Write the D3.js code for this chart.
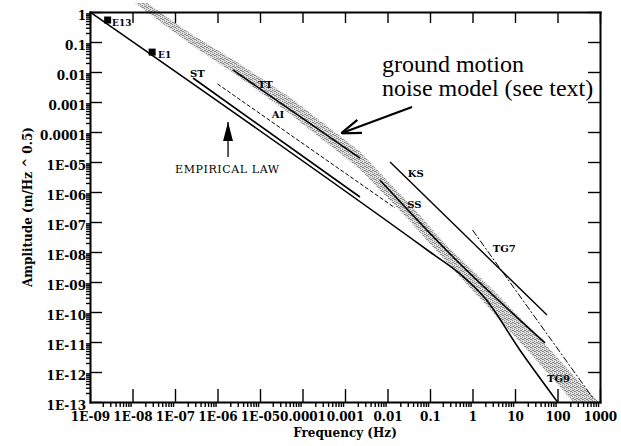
<!DOCTYPE html>
<html>
<head>
<meta charset="utf-8">
<script src="https://cdn.jsdelivr.net/npm/d3@7"></script>
<style>
  body { margin: 0; background: #fff; }
  svg { display: block; }
  .axis text { font-family: "DejaVu Serif"; font-weight: bold; font-size: 12px; fill: #000; }
  .axis path, .axis line { stroke: #000; }
  .curve-label { font-family: "DejaVu Serif"; font-weight: bold; font-size: 10px; }
</style>
</head>
<body>
<div id="chart"></div>
<script>
// axis decades and the labels printed on them
let xTicks = [1e-9, 1e-8, 1e-7, 1e-6, 1e-5, 1e-4, 1e-3, 1e-2, 0.1, 1, 10, 100, 1000];
let xTickLabels = ["1E-09", "1E-08", "1E-07", "1E-06", "1E-05", "0.0001", "0.001", "0.01", "0.1", "1", "10", "100", "1000"];
let yTicks = [1, 0.1, 0.01, 1e-3, 1e-4, 1e-5, 1e-6, 1e-7, 1e-8, 1e-9, 1e-10, 1e-11, 1e-12, 1e-13];
let yTickLabels = ["1", "0.1", "0.01", "0.001", "0.0001", "1E-05", "1E-06", "1E-07", "1E-08", "1E-09", "1E-10", "1E-11", "1E-12", "1E-13"];

// curves as [frequency (Hz), amplitude (m/Hz^0.5)]
let empiricalLaw = [[1e-9, 1], [0.1, 1e-8], [0.5, 1.9e-9], [2, 2.8e-10], [13, 5.4e-12], [100, 1e-13]];
let stLine = [[2.65e-7, 6.3e-3], [2.25e-3, 6.8e-7]];
let aiLine = [[1.0e-6, 4e-3], [0.015, 2.95e-7]];
let ttLine = [[2.3e-6, 1.17e-2], [2.25e-3, 1.35e-5]];
let ssLine = [[6.6e-3, 2.5e-6], [0.35, 6.8e-9], [51, 9.3e-12]];
let ksLine = [[0.0115, 1e-5], [56.6, 7.9e-11]];
let tg7Line = [[1, 5.4e-8], [684, 1.35e-13]];

// ground motion noise model band
let bandFreq  = [1e-8, 2.2e-7, 2.9e-6, 5.1e-5, 2.2e-3, 0.032, 0.26, 3.2, 32, 355, 1000];
let bandUpper = [4.4, 0.2, 0.021, 1.4e-3, 2.3e-5, 4.2e-7, 1.5e-8, 5.1e-10, 1.7e-11, 4.2e-13, 9e-14];
let bandLower = [2.3, 0.089, 7.6e-3, 4e-4, 5.9e-6, 1.15e-7, 4.2e-9, 8.9e-11, 2.4e-12, 5.2e-14, 1.1e-14];

// measured points
let markerNames = ["E13", "E1"];
let markerFreq = [2.6e-9, 2.9e-8];
let markerAmp = [0.54, 0.046];

// curve labels, anchored at [frequency, amplitude]
let curveLabels = [
    {text: "E13", f: 3.3e-9, a: 0.34},
    {text: "E1", f: 4e-8, a: 0.029},
    {text: "ST", f: 2.25e-7, a: 6.8e-3},
    {text: "TT", f: 9e-6, a: 2.9e-3},
    {text: "AI", f: 1.9e-5, a: 2.9e-4},
    {text: "KS", f: 0.030, a: 3.2e-6},
    {text: "SS", f: 0.029, a: 2.9e-7},
    {text: "TG7", f: 3.0, a: 1e-8},
    {text: "TG9", f: 57, a: 4.6e-13}
];

let width = 621, height = 446;

let svg = d3.select("#chart")
    .append("svg")
    .attr("width", width)
    .attr("height", height);

let x = d3.scaleLog().domain([1e-9, 1000]).range([90, 600]);
let y = d3.scaleLog().domain([1e-13, 1]).range([402, 12]);

let defs = svg.append("defs");

// stippled grey fill for the band
let pattern = defs.append("pattern")
    .attr("id", "stipple")
    .attr("width", 4).attr("height", 4)
    .attr("patternUnits", "userSpaceOnUse");
pattern.append("rect").attr("width", 4).attr("height", 4).attr("fill", "#dedede");
[[0, 0], [2, 1], [1, 2], [3, 3], [2, 3], [0, 2]].forEach(p => {
    pattern.append("rect")
        .attr("x", p[0]).attr("y", p[1])
        .attr("width", 1).attr("height", 1)
        .attr("fill", "#8c8c8c");
});

defs.append("clipPath").attr("id", "band-clip")
    .append("rect")
    .attr("x", x(1e-9)).attr("y", y(2))
    .attr("width", x(1000) - x(1e-9))
    .attr("height", y(1e-13) - y(2));

// open arrow head
defs.append("marker")
    .attr("id", "open-head")
    .attr("viewBox", "0 0 10 10")
    .attr("refX", 9.5).attr("refY", 5)
    .attr("markerWidth", 20).attr("markerHeight", 20)
    .attr("markerUnits", "userSpaceOnUse")
    .attr("orient", "auto")
    .append("path")
    .attr("d", "M0,1.5 L10,5 L0,8.5")
    .attr("fill", "none")
    .attr("stroke", "#000")
    .attr("stroke-width", 1.1);

// filled arrow head
defs.append("marker")
    .attr("id", "solid-head")
    .attr("viewBox", "0 0 19 10")
    .attr("refX", 19).attr("refY", 5)
    .attr("markerWidth", 19).attr("markerHeight", 10)
    .attr("markerUnits", "userSpaceOnUse")
    .attr("orient", "auto")
    .append("path")
    .attr("d", "M0,0 L19,5 L0,10 Z")
    .attr("fill", "#000");

// band
let bandPts = bandFreq.map((f, i) => [x(f), y(bandUpper[i])])
    .concat(bandFreq.map((f, i) => [x(f), y(bandLower[i])]).reverse());
svg.append("path")
    .attr("clip-path", "url(#band-clip)")
    .attr("d", d3.line().curve(d3.curveLinearClosed)(bandPts))
    .attr("fill", "url(#stipple)")
    .attr("stroke", "none");

let line = d3.line().x(d => x(d[0])).y(d => y(d[1]));
let smooth = d3.line().x(d => x(d[0])).y(d => y(d[1])).curve(d3.curveMonotoneX);

let curves = [
    {data: empiricalLaw, gen: smooth, w: 1.6, dash: null},
    {data: stLine, gen: line, w: 1.6, dash: null},
    {data: aiLine, gen: line, w: 1, dash: "4,2"},
    {data: ttLine, gen: line, w: 1.6, dash: null},
    {data: ssLine, gen: smooth, w: 1.6, dash: null},
    {data: ksLine, gen: line, w: 1.4, dash: null},
    {data: tg7Line, gen: line, w: 1, dash: "7,2,2,2"}
];

svg.append("g")
    .selectAll("path")
    .data(curves)
    .enter()
    .append("path")
    .attr("d", d => d.gen(d.data))
    .attr("fill", "none")
    .attr("stroke", "#000")
    .attr("stroke-width", d => d.w)
    .attr("stroke-dasharray", d => d.dash);

// square markers
svg.append("g")
    .selectAll("rect")
    .data(markerNames)
    .enter()
    .append("rect")
    .attr("x", (d, i) => x(markerFreq[i]) - 3.5)
    .attr("y", (d, i) => y(markerAmp[i]) - 3.5)
    .attr("width", 7)
    .attr("height", 7)
    .attr("fill", "#000");

// labels on the curves
svg.append("g")
    .selectAll("text")
    .data(curveLabels)
    .enter()
    .append("text")
    .attr("class", "curve-label")
    .attr("x", d => x(d.f))
    .attr("y", d => y(d.a))
    .style("font-size", d => d.text[0] == "E" ? "9px" : "10px")
    .text(d => d.text);

// empirical law pointer
svg.append("line")
    .attr("x1", x(1.77e-6)).attr("y1", y(1.47e-5))
    .attr("x2", x(1.77e-6)).attr("y2", y(2.15e-4))
    .attr("stroke", "#000")
    .attr("stroke-width", 1.3)
    .attr("marker-end", "url(#solid-head)");

svg.append("text")
    .attr("x", x(1e-7))
    .attr("y", y(4.3e-6))
    .style("font-family", "DejaVu Serif")
    .style("font-size", "11px")
    .style("letter-spacing", "0.6px")
    .text("EMPIRICAL LAW");

// noise model annotation
svg.append("line")
    .attr("x1", x(0.0377)).attr("y1", y(6.8e-4))
    .attr("x2", x(8.5e-4)).attr("y2", y(9.3e-5))
    .attr("stroke", "#000")
    .attr("stroke-width", 2.2)
    .attr("marker-end", "url(#open-head)");

let note = svg.append("text")
    .style("font-family", "Liberation Serif")
    .style("font-size", "24px");
note.append("tspan").attr("x", x(7.4e-3)).attr("y", y(0.01)).text("ground motion");
note.append("tspan").attr("x", x(7.4e-3)).attr("y", y(1.58e-3)).text("noise model (see text)");

// axes
let minorX = [], minorY = [];
xTicks.slice(0, -1).forEach(d => d3.range(2, 10).forEach(k => minorX.push(d * k)));
yTicks.slice(1).forEach(d => d3.range(2, 10).forEach(k => minorY.push(d * k)));

let bottom = svg.append("g")
    .attr("class", "axis")
    .attr("transform", `translate(0,${y(1e-13)})`);
bottom.call(d3.axisBottom(x).tickValues(minorX).tickSize(5).tickSizeOuter(0).tickFormat(""))
    .select(".domain").remove();
bottom.append("g")
    .call(d3.axisBottom(x).tickValues(xTicks).tickSize(-13).tickSizeOuter(0).tickPadding(10)
        .tickFormat((d, i) => xTickLabels[i]));

let left = svg.append("g")
    .attr("class", "axis")
    .attr("transform", `translate(${x(1e-9)},0)`);
left.call(d3.axisLeft(y).tickValues(minorY).tickSize(4).tickSizeOuter(0).tickFormat(""))
    .select(".domain").remove();
left.append("g")
    .call(d3.axisLeft(y).tickValues(yTicks).tickSize(-12).tickSizeOuter(0).tickPadding(4)
        .tickFormat((d, i) => yTickLabels[i]))
    .selectAll("text").attr("dy", "0.6em");

svg.append("g")
    .attr("class", "axis")
    .attr("transform", `translate(0,${y(1)})`)
    .call(d3.axisTop(x).tickValues(xTicks).tickSize(-11).tickSizeOuter(0).tickFormat(""));

svg.append("g")
    .attr("class", "axis")
    .attr("transform", `translate(${x(1000)},0)`)
    .call(d3.axisRight(y).tickValues(yTicks).tickSize(-12).tickSizeOuter(0).tickFormat(""));

svg.selectAll(".axis .domain").attr("stroke-width", 2).attr("stroke-linecap", "square");
svg.selectAll(".axis .tick line").attr("stroke-width", 1.4);

// axis titles
svg.append("text")
    .attr("x", x(Math.sqrt(1e-9 * 1000)))
    .attr("y", 437)
    .attr("text-anchor", "middle")
    .style("font-family", "DejaVu Serif")
    .style("font-weight", "bold")
    .style("font-size", "12px")
    .text("Frequency (Hz)");

svg.append("text")
    .attr("transform", `translate(32,${y(Math.sqrt(1e-13))}) rotate(-90)`)
    .attr("text-anchor", "middle")
    .style("font-family", "DejaVu Serif")
    .style("font-weight", "bold")
    .style("font-size", "12px")
    .text("Amplitude (m/Hz ^ 0.5)");
</script>
</body>
</html>
